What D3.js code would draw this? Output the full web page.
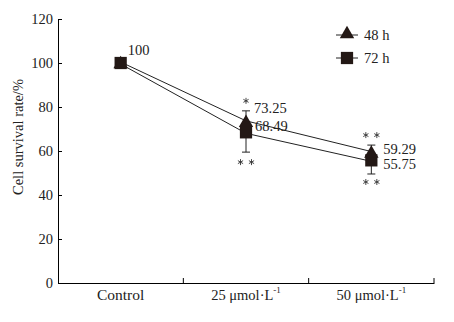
<!DOCTYPE html>
<html>
<head>
<meta charset="utf-8">
<script src="https://cdn.jsdelivr.net/npm/d3@7"></script>
<style>
  body { margin: 0; background: #fff; }
  svg { display: block; font-family: "Liberation Serif", "Times New Roman", serif; }
</style>
</head>
<body>
<div id="chart"></div>
<script>
'use strict';

const categories = ['Control', '25', '50'];
const yTicks = [0, 20, 40, 60, 80, 100, 120];

const series48 = [100, 73.25, 59.29];
const err48 = [2, 5, 3.4];
const stars48 = [0, 1, 2];

const series72 = [100, 68.49, 55.75];
const err72 = [2, 9, 6.2];
const stars72 = [0, 2, 2];

const width = 454;
const height = 322;
const margin = { top: 19, right: 20, bottom: 39, left: 58 };

const svg = d3.select('#chart').append('svg')
  .attr('width', width)
  .attr('height', height);

const x = d3.scaleBand()
  .domain(categories)
  .range([margin.left, width - margin.right]);

const y = d3.scaleLinear()
  .domain([0, 120])
  .range([height - margin.bottom, margin.top]);

const cx = (i) => x(categories[i]) + x.bandwidth() / 2;

// axes
const yAxis = svg.append('g')
  .attr('transform', `translate(${margin.left},0)`)
  .call(d3.axisLeft(y).tickValues(yTicks).tickSize(-4).tickPadding(5));

const xAxis = svg.append('g')
  .attr('transform', `translate(0,${y(0)})`)
  .call(d3.axisBottom(x).tickSize(0).tickFormat(''));

[yAxis, xAxis].forEach((g) => {
  g.select('.domain').attr('stroke', '#000').attr('stroke-width', 1);
  g.selectAll('.tick line').attr('stroke', '#000');
  g.selectAll('text').attr('fill', '#222').attr('font-size', 14.5)
    .attr('font-family', '"Liberation Serif", serif');
});

// small upward ticks at band boundaries
categories.forEach((c) => {
  const bx = x(c) + x.bandwidth();
  svg.append('line')
    .attr('x1', bx).attr('x2', bx)
    .attr('y1', y(0)).attr('y2', y(0) - 5)
    .attr('stroke', '#000');
});

// x category labels
const xLabels = svg.append('g')
  .attr('font-size', 14.5)
  .attr('fill', '#222');

categories.forEach((c, i) => {
  const t = xLabels.append('text')
    .attr('x', cx(i))
    .attr('y', y(0) + 17)
    .attr('text-anchor', 'middle');
  if (i === 0) {
    t.attr('font-size', 15.5).text(c);
  } else {
    t.append('tspan').text(`${c} \u03bcmol\u00b7L`);
    t.append('tspan').attr('font-size', 9).attr('dy', -7).text('-1');
  }
});

// y axis title
svg.append('text')
  .attr('transform', `translate(23,137) rotate(-90)`)
  .attr('text-anchor', 'middle')
  .attr('font-size', 14.5)
  .attr('fill', '#222')
  .text('Cell survival rate/%');

const line = d3.line()
  .x((d, i) => cx(i))
  .y((d) => y(d));

function drawSeries(values, offsetY) {
  svg.append('path')
    .datum(values)
    .attr('fill', 'none')
    .attr('stroke', '#222')
    .attr('stroke-width', 1)
    .attr('transform', `translate(0,${offsetY})`)
    .attr('d', line);
}

// the two lines sit close together like a double line
drawSeries(series48, -1);
drawSeries(series72, 1);

// error bars (48 h upward, 72 h downward)
function errorBars(values, errs, dir) {
  values.forEach((v, i) => {
    const end = y(v + dir * errs[i]);
    svg.append('line')
      .attr('x1', cx(i)).attr('x2', cx(i))
      .attr('y1', y(v)).attr('y2', end)
      .attr('stroke', '#222');
    svg.append('line')
      .attr('x1', cx(i) - 4).attr('x2', cx(i) + 4)
      .attr('y1', end).attr('y2', end)
      .attr('stroke', '#222');
  });
}
errorBars(series48, err48, 1);
errorBars(series72, err72, -1);

const triangle = d3.symbol().type(d3.symbolTriangle).size(90);
const square = d3.symbol().type(d3.symbolSquare).size(150);

series72.forEach((v, i) => {
  svg.append('path')
    .attr('d', square())
    .attr('transform', `translate(${cx(i)},${y(v)})`)
    .attr('fill', '#231815');
});
series48.forEach((v, i) => {
  svg.append('path')
    .attr('d', triangle())
    .attr('transform', `translate(${cx(i)},${y(v) + 1})`)
    .attr('fill', '#231815');
});

// value labels
const labels = svg.append('g')
  .attr('font-size', 14.5)
  .attr('fill', '#222');

labels.append('text').attr('x', cx(0) + 7).attr('y', y(100) - 8).text(String(series48[0]));
labels.append('text').attr('x', cx(1) + 8).attr('y', y(series48[1]) - 9).text(series48[1].toFixed(2));
labels.append('text').attr('x', cx(1) + 9).attr('y', y(series72[1]) - 1).text(series72[1].toFixed(2));
labels.append('text').attr('x', cx(2) + 12).attr('y', y(series48[2]) + 1).text(series48[2].toFixed(2));
labels.append('text').attr('x', cx(2) + 12).attr('y', y(series72[2]) + 9).text(series72[2].toFixed(2));

// significance stars, drawn as small six-spoke asterisks
const asterisk = {
  draw(context, size) {
    const r = Math.sqrt(size) / 2;
    for (let k = 0; k < 3; k++) {
      const a = Math.PI / 2 + k * Math.PI / 3;
      context.moveTo(r * Math.cos(a), r * Math.sin(a));
      context.lineTo(-r * Math.cos(a), -r * Math.sin(a));
    }
  },
};
const star = d3.symbol().type(asterisk).size(36);

function drawStars(i, count, cy) {
  for (let k = 0; k < count; k++) {
    const sx = cx(i) + (k - (count - 1) / 2) * 11;
    svg.append('path')
      .attr('d', star())
      .attr('transform', `translate(${sx},${cy})`)
      .attr('fill', 'none')
      .attr('stroke', '#333')
      .attr('stroke-width', 0.9);
  }
}

[1, 2].forEach((i) => {
  drawStars(i, stars48[i], y(series48[i] + err48[i]) - 10);
  drawStars(i, stars72[i], y(series72[i] - err72[i]) + (i === 1 ? 10 : 8));
});

// legend
const legend = svg.append('g').attr('font-size', 14.5).attr('fill', '#222');
const legendItems = [
  { label: '48 h', sym: triangle, dy: 1 },
  { label: '72 h', sym: square, dy: 0 },
];
legendItems.forEach((d, i) => {
  const ly = 35 + i * 23;
  legend.append('line')
    .attr('x1', 336).attr('x2', 358)
    .attr('y1', ly).attr('y2', ly)
    .attr('stroke', '#222');
  legend.append('path')
    .attr('d', d.sym())
    .attr('transform', `translate(347,${ly - d.dy})`)
    .attr('fill', '#231815');
  legend.append('text')
    .attr('x', 364).attr('y', ly + 5)
    .text(d.label);
});
</script>
</body>
</html>
